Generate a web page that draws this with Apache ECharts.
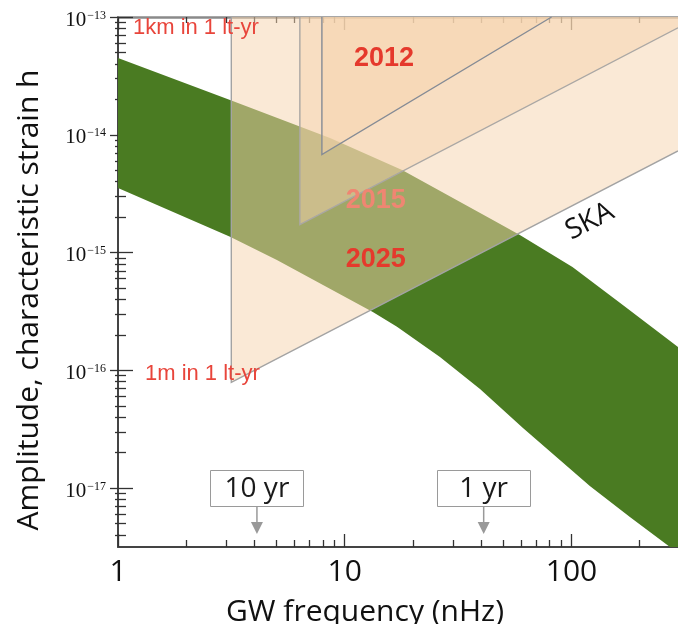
<!DOCTYPE html>
<html>
<head>
<meta charset="utf-8">
<script src="https://cdn.jsdelivr.net/npm/echarts@6/dist/echarts.min.js"></script>
<style>
  html, body { margin: 0; padding: 0; background: #fff; }
  #chart { width: 678px; height: 624px; }
</style>
</head>
<body>
<div id="chart"></div>
<script>
// Expected GW background from supermassive black-hole binaries: upper and lower edge of the band
const bandUpperFreq   = [1, 3.12, 8.61, 17.9, 45.0, 59.2, 101, 164, 295];
const bandUpperStrain = [4.49e-14, 1.97e-14, 9.4e-15, 5.02e-15, 1.89e-15, 1.41e-15, 7.55e-16, 3.73e-16, 1.58e-16];
const bandLowerFreq   = [1, 3.12, 5.02, 13.3, 17.0, 26.3, 39.5, 61.1, 120.5, 181, 272, 295];
const bandLowerStrain = [3.53e-15, 1.36e-15, 8.65e-16, 3.13e-16, 2.34e-16, 1.30e-16, 6.95e-17, 3.24e-17, 1.04e-17, 5.69e-18, 3.17e-18, 3.16e-18];

// Pulsar timing array sensitivity regions (corner points of each region)
const ska2025Freq   = [3.16, 3.16, 295, 295];
const ska2025Strain = [1e-13, 7.9e-17, 7.3e-15, 1e-13];
const pta2015Freq   = [6.34, 6.34, 295, 295];
const pta2015Strain = [1e-13, 1.73e-15, 8.1e-14, 1e-13];
const pta2012Freq   = [7.93, 7.93, 81.7];
const pta2012Strain = [1e-13, 6.8e-15, 1e-13];

// Observation span markers
const periodLabels = ['10 yr', '1 yr'];
const periodFreq   = [4.1, 41];

// Axis ticks
const xMajorTicks = [1, 10, 100];
const xMinorTicks = [2, 3, 4, 5, 6, 7, 8, 9, 20, 30, 40, 50, 60, 70, 80, 90, 200];
const yMajorExp   = [-17, -16, -15, -14, -13];

const lg = Math.log10;
const X_MIN = 0, X_MAX = lg(295);
const Y_MIN = -17.5, Y_MAX = -13;

const yMinorTicks = [];
for (let e = -18; e <= -14; e++) {
  for (let m = 2; m <= 9; m++) {
    const v = lg(m) + e;
    if (v > Y_MIN && v < Y_MAX) yMinorTicks.push(v);
  }
}

const chart = echarts.init(document.getElementById('chart'), null, { renderer: 'canvas' });

function xAxisDef(position, ticks, len, extra) {
  return Object.assign({
    type: 'value', position, min: X_MIN, max: X_MAX,
    splitLine: { show: false },
    axisLine: { show: false },
    axisLabel: { show: false },
    axisTick: { show: true, inside: true, length: len, customValues: ticks,
                lineStyle: { color: '#333', width: 1.3 } }
  }, extra || {});
}
function yAxisDef(position, ticks, len, extra) {
  return Object.assign({
    type: 'value', position, min: Y_MIN, max: Y_MAX,
    splitLine: { show: false },
    axisLine: { show: false },
    axisLabel: { show: false },
    axisTick: { show: true, inside: true, length: len, customValues: ticks,
                lineStyle: { color: '#333', width: 1.3 } }
  }, extra || {});
}

const SANS = '"Open Sans", "Noto Sans", sans-serif';
const ARIAL = '"Liberation Sans", Arial, sans-serif';
const ORANGE = 'rgba(245,212,174,0.5)';

function regionSeries(name, freq, strain, stroke, z) {
  return {
    name, type: 'custom', coordinateSystem: 'cartesian2d', xAxisIndex: 0, yAxisIndex: 0,
    z, silent: true,
    data: freq.map((f, i) => [lg(f), lg(strain[i])]),
    renderItem(params, api) {
      if (params.dataIndex !== 0) return null;
      const pts = [];
      for (let i = 0; i < params.dataInsideLength; i++) {
        pts.push(api.coord([api.value(0, i), api.value(1, i)]));
      }
      return {
        type: 'group',
        children: [
          { type: 'polygon', shape: { points: pts }, style: { fill: ORANGE, stroke: null } },
          { type: 'polyline', shape: { points: pts.slice(0, 3) },
            style: { stroke, lineWidth: 1.4, fill: null } }
        ]
      };
    }
  };
}

// Band polygon: upper edge left to right, then lower edge right to left
const bandRing = bandUpperFreq.map((f, i) => [lg(f), lg(bandUpperStrain[i])])
  .concat(bandLowerFreq.map((f, i) => [lg(f), lg(bandLowerStrain[i])]).reverse());

// Text annotations anchored in data space
const notes = [
  { text: '1km in 1 lt-yr', f: 1.164, h: -13.093, align: 'left',   font: ARIAL, size: 22, weight: 'normal', color: '#e8453b', rot: 0 },
  { text: '1m in 1 lt-yr',  f: 1.315, h: -16.03,  align: 'left',   font: ARIAL, size: 22, weight: 'normal', color: '#e8453b', rot: 0 },
  { text: '2012',           f: 14.9,  h: -13.356, align: 'center', font: ARIAL, size: 27, weight: 'bold',   color: '#e5392c', rot: 0 },
  { text: '2015',           f: 13.7,  h: -14.56,  align: 'center', font: ARIAL, size: 27, weight: 'bold',   color: '#ef8672', rot: 0 },
  { text: '2025',           f: 13.7,  h: -15.06,  align: 'center', font: ARIAL, size: 27, weight: 'bold',   color: '#e5392c', rot: 0 },
  { text: 'SKA',            f: 120.5, h: -14.735, align: 'center', font: SANS,  size: 28, weight: 'normal', color: '#111',    rot: 0.476 }
];

const option = {
  animation: false,
  backgroundColor: '#fff',
  grid: { left: 118, top: 17, right: 0, bottom: 77, containLabel: false, outerBoundsMode: 'none' },
  xAxis: [
    xAxisDef('bottom', xMajorTicks.map(lg), 13, {
      axisLine: { show: true, lineStyle: { color: '#444', width: 2 } },
      axisLabel: {
        show: true, customValues: xMajorTicks.map(lg), margin: 10,
        formatter: v => String(Math.round(Math.pow(10, v))),
        fontFamily: SANS, fontSize: 30, color: '#111'
      },
      name: 'GW frequency (nHz)', nameLocation: 'middle', nameGap: 50,
      nameTextStyle: { fontFamily: SANS, fontSize: 30, color: '#111', padding: [0, 66, 0, 0] }
    }),
    xAxisDef('bottom', xMinorTicks.map(lg), 7),
    xAxisDef('top', xMajorTicks.map(lg), 13, {
      axisLine: { show: true, lineStyle: { color: '#8a8a8a', width: 2.5 } }
    }),
    xAxisDef('top', xMinorTicks.map(lg), 6)
  ],
  yAxis: [
    yAxisDef('left', yMajorExp, 15, {
      axisLine: { show: true, lineStyle: { color: '#444', width: 2 } },
      axisLabel: {
        show: true, customValues: yMajorExp, margin: 12, padding: [6, 0, 0, 0],
        formatter: v => '{b|10}{s|\u2212' + Math.abs(Math.round(v)) + '}',
        rich: {
          b: { fontFamily: '"Liberation Serif", serif', fontSize: 21, color: '#111' },
          s: { fontFamily: '"Liberation Serif", serif', fontSize: 12, color: '#111', padding: [0, 0, 9, 1] }
        }
      },
      name: 'Amplitude, characteristic strain h', nameLocation: 'middle', nameGap: 74,
      nameTextStyle: { fontFamily: SANS, fontSize: 30, color: '#111', padding: [0, 36, 0, 0] }
    }),
    yAxisDef('left', yMinorTicks, 8),
    yAxisDef('right', yMajorExp, 8),
    yAxisDef('right', yMinorTicks, 3)
  ],
  series: [
    {
      name: 'SMBHB background', type: 'custom', coordinateSystem: 'cartesian2d',
      xAxisIndex: 0, yAxisIndex: 0, z: 1, silent: true,
      data: bandRing,
      renderItem(params, api) {
        if (params.dataIndex !== 0) return null;
        const pts = [];
        for (let i = 0; i < params.dataInsideLength; i++) {
          pts.push(api.coord([api.value(0, i), api.value(1, i)]));
        }
        return { type: 'polygon', shape: { points: pts }, style: { fill: '#4a7b22' } };
      }
    },
    regionSeries('2025', ska2025Freq, ska2025Strain, '#a3a3a3', 2),
    regionSeries('2015', pta2015Freq, pta2015Strain, '#aaa7a4', 3),
    regionSeries('2012', pta2012Freq, pta2012Strain, '#858b95', 4),
    {
      name: 'notes', type: 'custom', coordinateSystem: 'cartesian2d',
      xAxisIndex: 0, yAxisIndex: 0, z: 10, silent: true,
      data: notes.map(n => [lg(n.f), n.h]),
      renderItem(params, api) {
        const n = notes[params.dataIndex];
        const p = api.coord([api.value(0), api.value(1)]);
        return {
          type: 'text', x: p[0], y: p[1], rotation: n.rot,
          style: {
            text: n.text, fill: n.color, fontFamily: n.font, fontSize: n.size,
            fontWeight: n.weight, align: n.align, verticalAlign: 'middle'
          }
        };
      }
    },
    {
      name: 'periods', type: 'custom', coordinateSystem: 'cartesian2d',
      xAxisIndex: 0, yAxisIndex: 0, z: 10, silent: true,
      data: periodFreq.map(f => [lg(f), Y_MIN]),
      renderItem(params, api) {
        const p = api.coord([api.value(0), api.value(1)]);
        const x = p[0], y = p[1];
        return {
          type: 'group',
          children: [
            { type: 'rect', shape: { x: Math.round(x - 46.5) + 0.5, y: Math.round(y - 77) + 0.5, width: 93, height: 36 },
              style: { fill: '#fff', stroke: '#9a9a9a', lineWidth: 1 } },
            { type: 'text', x: x, y: y - 58,
              style: { text: periodLabels[params.dataIndex], fill: '#1a1a1a', fontFamily: SANS,
                       fontSize: 28, align: 'center', verticalAlign: 'middle' } },
            { type: 'line', shape: { x1: x, y1: y - 41, x2: x, y2: y - 24 },
              style: { stroke: '#999', lineWidth: 1.5 } },
            { type: 'polygon', shape: { points: [[x - 6, y - 25], [x + 6, y - 25], [x, y - 13]] },
              style: { fill: '#999' } }
          ]
        };
      }
    }
  ]
};

chart.setOption(option);
</script>
</body>
</html>
